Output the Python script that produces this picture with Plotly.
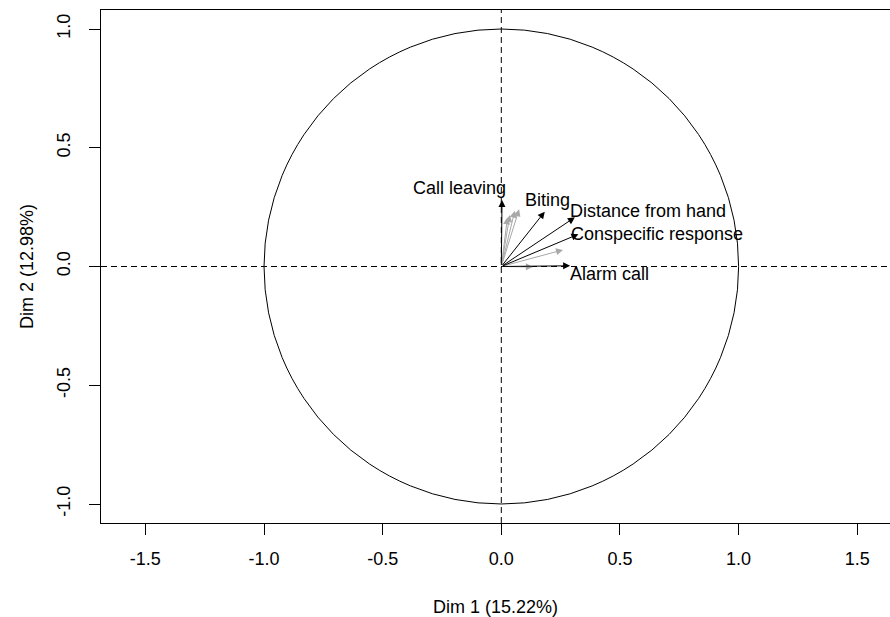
import plotly.graph_objects as go

# Correlation circle: variable coordinates on the first two dimensions
active_vars = ["Call leaving", "Biting", "Distance from hand",
               "Conspecific response", "Alarm call"]
active_dim1 = [0.003, 0.183, 0.310, 0.325, 0.290]
active_dim2 = [0.280, 0.231, 0.207, 0.136, 0.003]

# Variables shown in grey (not labelled)
grey_dim1 = [0.026, 0.036, 0.057, 0.075, 0.260, 0.133]
grey_dim2 = [0.207, 0.217, 0.235, 0.241, 0.070, -0.002]

x_ticks = [-1.5, -1.0, -0.5, 0.0, 0.5, 1.0, 1.5]
x_tick_text = ["-1.5", "-1.0", "-0.5", "0.0", "0.5", "1.0", "1.5"]
y_ticks = [-1.0, -0.5, 0.0, 0.5, 1.0]
y_tick_text = ["-1.0", "-0.5", "0.0", "0.5", "1.0"]
x_title = "Dim 1 (15.22%)"
y_title = "Dim 2 (12.98%)"

# Label placement relative to each arrow tip (pixels)
label_place = {
    "Call leaving": dict(xanchor="right", xshift=6, yshift=12),
    "Biting": dict(xanchor="center", xshift=3, yshift=12),
    "Distance from hand": dict(xanchor="left", xshift=-7, yshift=6),
    "Conspecific response": dict(xanchor="left", xshift=-9, yshift=0),
    "Alarm call": dict(xanchor="left", xshift=-2, yshift=-8),
}

FONT = "Liberation Sans, Arial, sans-serif"

fig = go.Figure()
# invisible trace so the axes are drawn
fig.add_trace(go.Scatter(x=[0], y=[0], mode="markers",
                         marker=dict(opacity=0), showlegend=False,
                         hoverinfo="skip"))

shapes = [
    dict(type="circle", xref="x", yref="y", x0=-1, y0=-1, x1=1, y1=1,
         line=dict(color="black", width=1)),
    dict(type="line", xref="paper", yref="y", x0=0, x1=1, y0=0, y1=0,
         line=dict(color="black", width=1, dash="6px,4px")),
    dict(type="line", xref="x", yref="paper", x0=0, x1=0, y0=0, y1=1,
         line=dict(color="black", width=1, dash="6px,4px")),
]

annotations = []


def arrow(x, y, color):
    return dict(x=x, y=y, ax=0, ay=0, xref="x", yref="y", axref="x", ayref="y",
                text="", showarrow=True, arrowhead=2, arrowsize=1.4,
                arrowwidth=1, arrowcolor=color, standoff=0, startstandoff=0)


for gx, gy in zip(grey_dim1, grey_dim2):
    annotations.append(arrow(gx, gy, "#A8A8A8"))

for name, ax_, ay_ in zip(active_vars, active_dim1, active_dim2):
    annotations.append(arrow(ax_, ay_, "black"))
    p = label_place[name]
    annotations.append(dict(x=ax_, y=ay_, xref="x", yref="y", text=name,
                            showarrow=False, xanchor=p["xanchor"],
                            yanchor="middle", xshift=p["xshift"],
                            yshift=p["yshift"],
                            font=dict(family=FONT, size=18, color="black")))

fig.update_layout(
    width=890, height=617,
    margin=dict(l=101, r=0, t=10, b=94),
    paper_bgcolor="white", plot_bgcolor="white",
    shapes=shapes, annotations=annotations,
    showlegend=False,
    font=dict(family=FONT, size=18, color="black"),
)

fig.update_xaxes(
    range=[-1.687, 1.638], tickvals=x_ticks, ticktext=x_tick_text,
    ticks="outside", ticklen=11, tickwidth=1, tickcolor="black",
    showline=True, linecolor="black", linewidth=1, mirror=True,
    showgrid=False, zeroline=False, ticklabelstandoff=8,
    title=dict(text=x_title, standoff=32, font=dict(family=FONT, size=18)),
)
fig.update_yaxes(
    range=[-1.08, 1.08], tickvals=y_ticks, ticktext=y_tick_text, tickangle=-90,
    ticks="outside", ticklen=11, tickwidth=1, tickcolor="black",
    showline=True, linecolor="black", linewidth=1, mirror=False,
    showgrid=False, zeroline=False, ticklabelstandoff=12,
    title=dict(text=y_title, standoff=15, font=dict(family=FONT, size=18)),
)

fig.write_html("out.html")
